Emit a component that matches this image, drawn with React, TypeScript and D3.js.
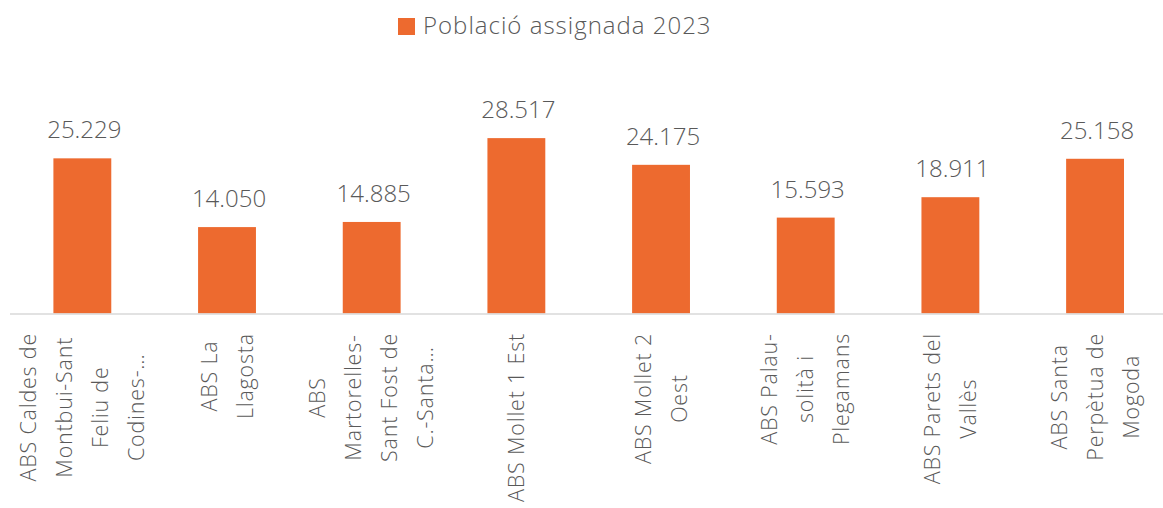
import React, { useEffect, useRef } from "react";
import * as d3 from "d3";

const categories = [
  "ABS Caldes de Montbui-Sant Feliu de Codines-…",
  "ABS La Llagosta",
  "ABS Martorelles-Sant Fost de C.-Santa…",
  "ABS Mollet 1 Est",
  "ABS Mollet 2 Oest",
  "ABS Palau-solità i Plegamans",
  "ABS Parets del Vallès",
  "ABS Santa Perpètua de Mogoda",
];
const categoryLines = [
  ["ABS Caldes de", "Montbui-Sant", "Feliu de", "Codines-…"],
  ["ABS La", "Llagosta"],
  ["ABS", "Martorelles-", "Sant Fost de", "C.-Santa…"],
  ["ABS Mollet 1 Est"],
  ["ABS Mollet 2", "Oest"],
  ["ABS Palau-", "solità i", "Plegamans"],
  ["ABS Parets del", "Vallès"],
  ["ABS Santa", "Perpètua de", "Mogoda"],
];
const values = [25229, 14050, 14885, 28517, 24175, 15593, 18911, 25158];
const seriesName = "Població assignada 2023";

const W = 1163;
const H = 508;
const FONT = "'Open Sans', 'DejaVu Sans', sans-serif";
const TEXT = "#595959";
const BAR = "#ED6A2F";

export default function App() {
  const ref = useRef<SVGSVGElement>(null);
  useEffect(() => {
    const svg = d3.select(ref.current);
    svg.selectAll("*").remove();

    const x = d3
      .scaleBand<string>()
      .domain(categories)
      .range([10, 1167.4])
      .paddingInner(0.6)
      .paddingOuter(0.3);
    const y = d3.scaleLinear().domain([0, 30000]).range([313.5, 129]);

    // legend
    const lg = svg.append("g");
    lg.append("rect").attr("x", 398).attr("y", 18).attr("width", 17).attr("height", 17).attr("fill", BAR);
    lg.append("text")
      .attr("x", 423)
      .attr("y", 34)
      .attr("font-family", FONT)
      .attr("font-weight", 300)
      .attr("font-size", 24)
      .attr("letter-spacing", 1)
      .attr("fill", TEXT)
      .text(seriesName);

    // bars
    svg
      .append("g")
      .selectAll("rect")
      .data(values)
      .join("rect")
      .attr("x", (_, i) => x(categories[i])!)
      .attr("width", x.bandwidth())
      .attr("y", (d) => y(d))
      .attr("height", (d) => y(0) - y(d))
      .attr("fill", BAR);

    // axis line
    svg
      .append("line")
      .attr("x1", 10)
      .attr("x2", W)
      .attr("y1", y(0) + 0.5)
      .attr("y2", y(0) + 0.5)
      .attr("stroke", "#D9D9D9")
      .attr("stroke-width", 1.5);

    // value labels
    const fmt = (v: number) => d3.format(",")(v).replace(/,/g, ".");
    svg
      .append("g")
      .selectAll("text")
      .data(values)
      .join("text")
      .attr("x", (_, i) => x(categories[i])! + x.bandwidth() / 2 + 2)
      .attr("y", (d) => y(d) - 20)
      .attr("text-anchor", "middle")
      .attr("font-family", FONT)
      .attr("font-weight", 300)
      .attr("font-size", 24)
      .attr("fill", TEXT)
      .text((d) => fmt(d));

    // category labels (rotated, wrapped)
    const lineStep = 36;
    const topY = 333;
    categoryLines.forEach((lines, i) => {
      const cx = x(categories[i])! + x.bandwidth() / 2;
      const g = svg.append("g");
      const texts = lines.map((ln, j) => {
        const lx = cx + (j - (lines.length - 1) / 2) * lineStep;
        return g
          .append("text")
          .attr("font-family", FONT)
          .attr("font-weight", 300)
          .attr("font-size", 21.5)
          .attr("letter-spacing", 0.8)
          .attr("fill", TEXT)
          .attr("text-anchor", "middle")
          .attr("dy", "0.35em")
          .attr("data-x", lx)
          .text(ln);
      });
      const maxLen = d3.max(texts, (t) => (t.node() as SVGTextElement).getComputedTextLength()) || 0;
      const cy = topY + maxLen / 2;
      texts.forEach((t) => {
        const lx = +t.attr("data-x");
        t.attr("transform", `translate(${lx},${cy}) rotate(-90)`);
      });
    });
  }, []);

  return (
    <svg
      ref={ref}
      width={W}
      height={H}
      style={{ position: "absolute", left: 0, top: 0, background: "#fff" }}
    />
  );
}
